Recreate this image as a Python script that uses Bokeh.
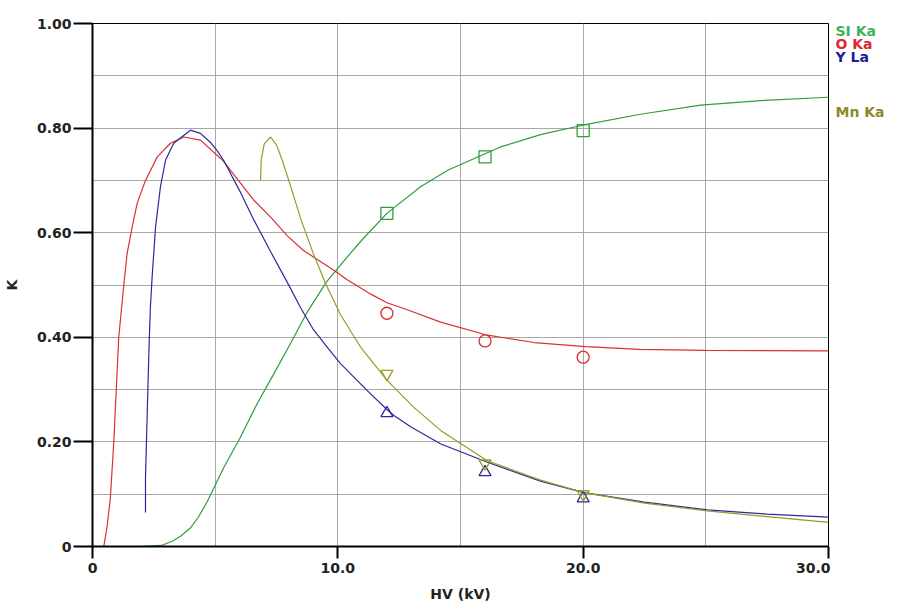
from bokeh.plotting import figure
from bokeh.layouts import row
from bokeh.models import FixedTicker, Range1d
from bokeh.core.properties import value
from bokeh.embed import file_html
from bokeh.resources import INLINE

# ---- data: k-ratio versus beam voltage ----
si_x = [2.0, 2.8, 3.25, 3.6, 4.0, 4.3, 4.67, 5.35, 6.03, 6.71, 7.39, 8.07, 8.75,
        9.54, 9.91, 10.5, 11.0, 12.0, 13.37, 14.5, 16.63, 18.3, 20.03, 22.4,
        24.79, 27.4, 30.0]
si_y = [0.0, 0.002, 0.01, 0.02, 0.036, 0.055, 0.085, 0.151, 0.209, 0.273, 0.330,
        0.388, 0.448, 0.506, 0.527, 0.560, 0.587, 0.637, 0.688, 0.720, 0.764,
        0.788, 0.806, 0.827, 0.844, 0.853, 0.859]

o_x = [0.46, 0.60, 0.73, 0.87, 1.07, 1.28, 1.41, 1.62, 1.82, 2.16, 2.64, 3.18,
       3.72, 4.40, 5.22, 5.35, 6.58, 7.3, 7.94, 8.6, 9.29, 9.97, 10.38, 11.33,
       12.0, 12.69, 14.19, 16.1, 18.0, 20.1, 22.3, 25.0, 30.0]
o_y = [0.0, 0.04, 0.094, 0.202, 0.40, 0.502, 0.56, 0.611, 0.656, 0.70, 0.745,
       0.771, 0.783, 0.777, 0.742, 0.736, 0.662, 0.628, 0.594, 0.566, 0.545,
       0.524, 0.510, 0.483, 0.466, 0.455, 0.429, 0.404, 0.390, 0.382, 0.377,
       0.375, 0.374]

y_x = [2.16, 2.16, 2.23, 2.30, 2.36, 2.43, 2.57, 2.77, 2.98, 3.31, 3.99, 4.40,
       4.80, 5.08, 5.35, 6.0, 6.58, 7.28, 7.94, 8.5, 9.0, 9.5, 10.1, 11.2, 12.0,
       12.3, 13.0, 14.2, 16.1, 18.26, 20.03, 22.5, 25.06, 27.5, 30.0]
y_y = [0.065, 0.132, 0.254, 0.375, 0.458, 0.515, 0.611, 0.688, 0.739, 0.771,
       0.796, 0.790, 0.773, 0.757, 0.738, 0.680, 0.624, 0.562, 0.505, 0.455,
       0.415, 0.385, 0.350, 0.298, 0.262, 0.250, 0.228, 0.196, 0.161, 0.125,
       0.103, 0.085, 0.070, 0.062, 0.056]

mn_x = [6.85, 6.88, 7.0, 7.26, 7.5, 7.73, 8.0, 8.5, 9.0, 9.5, 10.1, 10.93, 12.0,
        13.1, 14.19, 16.09, 18.26, 20.03, 22.5, 25.06, 27.5, 30.0]
mn_y = [0.70, 0.74, 0.77, 0.783, 0.768, 0.739, 0.70, 0.625, 0.56, 0.503, 0.444,
        0.381, 0.318, 0.266, 0.222, 0.164, 0.127, 0.103, 0.083, 0.068, 0.057,
        0.046]

# measured standards
meas_kv = [12, 16, 20]
si_meas = [0.637, 0.745, 0.795]
o_meas = [0.446, 0.393, 0.362]
y_meas = [0.255, 0.142, 0.092]
mn_meas = [0.33, 0.159, 0.10]

series_names = ["SI Ka", "O Ka", "Y La", "Mn Ka"]

x_ticks = [0, 10, 20, 30]
x_tick_labels = ["0", "10.0", "20.0", "30.0"]
y_ticks = [0, 0.2, 0.4, 0.6, 0.8, 1.0]
y_tick_labels = ["0", "0.20", "0.40", "0.60", "0.80", "1.00"]

# ---- styling ----
GREEN = "#2f9e3c"
RED = "#d93030"
BLUE = "#2a2a9c"
OLIVE = "#999a22"
LEGEND_COLORS = ["#3cb35a", "#e0282e", "#1c1c9c", "#8c8a28"]
FONT = "DejaVu Sans"

H = 605
TOP, BOTTOM = 23, 59

p = figure(width=830, height=H, title=None,
           x_range=Range1d(0, 30), y_range=Range1d(0, 1.0),
           output_backend="svg", toolbar_location=None,
           min_border_left=92, min_border_right=2,
           min_border_top=TOP, min_border_bottom=BOTTOM)

p.background_fill_color = "white"
p.border_fill_color = "white"
p.outline_line_color = "black"
p.outline_line_width = 1

# axes
p.xaxis.ticker = FixedTicker(ticks=x_ticks)
p.yaxis.ticker = FixedTicker(ticks=y_ticks)
p.xaxis.major_label_overrides = {t: s for t, s in zip(x_ticks, x_tick_labels)}
p.yaxis.major_label_overrides = {t: s for t, s in zip(y_ticks, y_tick_labels)}
p.xaxis.axis_label = "HV (kV)"
p.yaxis.axis_label = "K"

for ax in (p.xaxis, p.yaxis):
    ax.axis_line_color = "black"
    ax.axis_line_width = 2
    ax.major_tick_line_color = "black"
    ax.major_tick_line_width = 2
    ax.major_tick_in = 0
    ax.minor_tick_line_color = None
    ax.major_label_text_font = FONT
    ax.major_label_text_font_style = "bold"
    ax.major_label_text_font_size = "14px"
    ax.major_label_text_color = "#222222"
    ax.axis_label_text_font = FONT
    ax.axis_label_text_font_style = "bold"
    ax.axis_label_text_font_size = "14px"
    ax.axis_label_text_color = "#222222"

p.xaxis.major_tick_out = 12
p.xaxis.major_label_standoff = 4
p.xaxis.axis_label_standoff = 10
p.yaxis.major_tick_out = 19
p.yaxis.major_label_standoff = 2
p.yaxis.axis_label_standoff = 14

# grid every 5 kV and every 0.1 K
p.xgrid.ticker = FixedTicker(ticks=[5, 10, 15, 20, 25])
p.ygrid.ticker = FixedTicker(ticks=[0.1, 0.2, 0.3, 0.4, 0.5, 0.6, 0.7, 0.8, 0.9])
for g in (p.xgrid, p.ygrid):
    g.grid_line_color = "#a8a8a8"
    g.grid_line_width = 1

# calculated curves
p.line(si_x, si_y, line_color=GREEN, line_width=1.2)
p.line(o_x, o_y, line_color=RED, line_width=1.2)
p.line(y_x, y_y, line_color=BLUE, line_width=1.2)
p.line(mn_x, mn_y, line_color=OLIVE, line_width=1.2)

# measured points
p.scatter(meas_kv, si_meas, marker="square", size=12, fill_color=None,
          line_color=GREEN, line_width=1.3)
p.scatter(meas_kv, o_meas, marker="circle", size=12, fill_color=None,
          line_color=RED, line_width=1.3)
p.scatter(meas_kv, y_meas, marker="triangle", size=12, fill_color=None,
          line_color=BLUE, line_width=1.3)
p.scatter(meas_kv, mn_meas, marker="inverted_triangle", size=12, fill_color=None,
          line_color=OLIVE, line_width=1.3)

# narrow side panel holding the series names; the row aligns its frame
# with the main frame, so it shares the same 0..1 K scale
side = figure(width=70, height=H, title=None,
              x_range=Range1d(0, 70), y_range=Range1d(0, 1.0),
              x_axis_type=None, y_axis_type=None,
              output_backend="svg", toolbar_location=None,
              min_border_left=0, min_border_right=0,
              min_border_top=TOP, min_border_bottom=BOTTOM)
side.outline_line_color = None
side.background_fill_color = "white"
side.border_fill_color = "white"
side.xgrid.visible = False
side.ygrid.visible = False

label_y = [0.986, 0.961, 0.936, 0.830]
side.text(x=[5] * len(series_names), y=label_y, text=series_names,
          text_color=LEGEND_COLORS, text_font=value(FONT),
          text_font_style="bold", text_font_size="14px",
          text_baseline="middle", text_align="left")

layout = row(p, side, spacing=0)
open("out.html", "w").write(file_html(layout, INLINE))
